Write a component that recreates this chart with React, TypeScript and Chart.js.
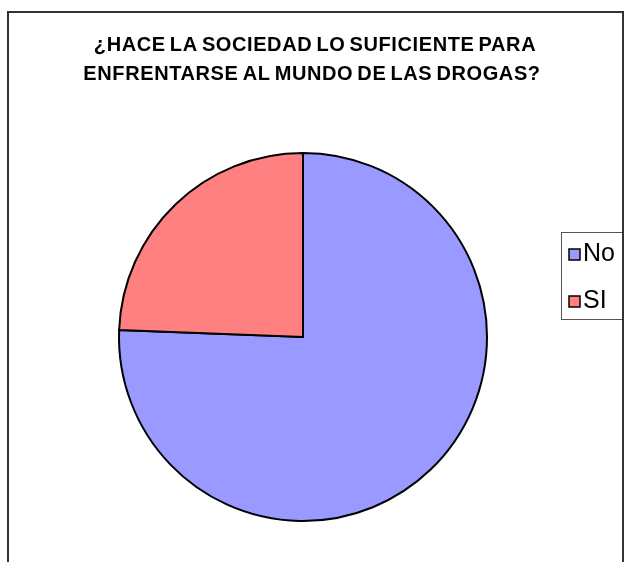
import React, { useEffect, useRef } from "react";
import { Chart, registerables } from "chart.js";

Chart.register(...registerables);

const labels = ["No", "SI"];
const values = [31, 10];
const colors = ["#9999FF", "#FF8080"];
const titleLines = ["¿HACE LA SOCIEDAD LO SUFICIENTE PARA", "ENFRENTARSE AL MUNDO DE LAS DROGAS?"];

const extrasPlugin = {
  id: "extras",
  afterDraw(chart: any) {
    const ctx = chart.ctx as CanvasRenderingContext2D;
    ctx.save();
    // title
    ctx.fillStyle = "#000";
    ctx.font = "bold 20px 'Liberation Sans', Arial, sans-serif";
    ctx.textAlign = "center";
    ctx.textBaseline = "alphabetic";
    (ctx as any).letterSpacing = "0.6px";
    (ctx as any).wordSpacing = "-2px";
    ctx.fillText(titleLines[0], 306, 38);
    ctx.fillText(titleLines[1], 303, 67);
    (ctx as any).letterSpacing = "0px";
    (ctx as any).wordSpacing = "0px";
    // legend box
    ctx.strokeStyle = "#555";
    ctx.lineWidth = 1;
    ctx.strokeRect(552.5, 219.5, 100, 87);
    const lbls = chart.data.labels as string[];
    const ds = chart.data.datasets[0];
    ctx.font = "25px 'Liberation Sans', Arial, sans-serif";
    ctx.textAlign = "left";
    lbls.forEach((l, i) => {
      const y = 236 + i * 47;
      ctx.fillStyle = ds.backgroundColor[i];
      ctx.fillRect(560, y, 11, 11);
      ctx.strokeStyle = "#000";
      ctx.lineWidth = 1.5;
      ctx.strokeRect(560, y, 11, 11);
      ctx.fillStyle = "#000";
      ctx.fillText(l, 574, y + 12);
    });
    ctx.restore();
  },
};

export default function App() {
  const ref = useRef<HTMLCanvasElement>(null);
  useEffect(() => {
    if (!ref.current) return;
    const chart = new Chart(ref.current, {
      type: "pie",
      data: {
        labels,
        datasets: [
          {
            data: values,
            backgroundColor: colors,
            borderColor: "#000",
            borderWidth: 2,
            borderJoinStyle: "miter",
          } as any,
        ],
      },
      options: {
        animation: false,
        responsive: false,
        layout: { padding: { left: 109, right: 134, top: 139, bottom: 40 } },
        plugins: {
          legend: { display: false },
          title: { display: false },
          tooltip: { enabled: false },
        },
      },
      plugins: [extrasPlugin],
    });
    return () => chart.destroy();
  }, []);
  return (
    <div style={{ position: "fixed", left: 0, top: 0, width: 624, height: 562, overflow: "hidden", background: "#fff" }}>
      <div
        style={{
          position: "absolute",
          left: 7,
          top: 11,
          width: 617,
          height: 600,
          border: "2px solid #333",
          boxSizing: "border-box",
          overflow: "hidden",
        }}
      >
        <canvas ref={ref} width={613} height={549} style={{ display: "block", width: 613, height: 549 }} />
      </div>
    </div>
  );
}
